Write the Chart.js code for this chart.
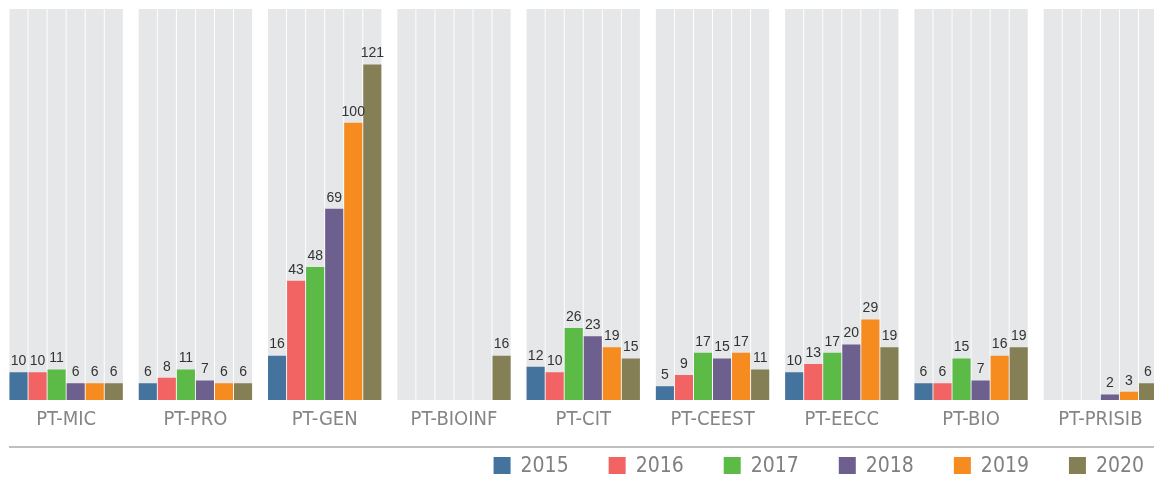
<!DOCTYPE html>
<html><head><meta charset="utf-8">
<script src="https://cdn.jsdelivr.net/npm/chart.js@4.4.0/dist/chart.umd.min.js"></script>
<style>html,body{margin:0;padding:0;background:#fff;overflow:hidden}#wrap{width:1165px;height:479px;position:relative}</style>
</head><body><div id="wrap"><canvas id="c"></canvas></div>
<script>
const categories = ['PT-MIC','PT-PRO','PT-GEN','PT-BIOINF','PT-CIT','PT-CEEST','PT-EECC','PT-BIO','PT-PRISIB'];
const years = ['2015','2016','2017','2018','2019','2020'];
const v2015 = [10,6,16,0,12,5,10,6,0];
const v2016 = [10,8,43,0,10,9,13,6,0];
const v2017 = [11,11,48,0,26,17,17,15,0];
const v2018 = [6,7,69,0,23,15,20,7,2];
const v2019 = [6,6,100,0,19,17,29,16,3];
const v2020 = [6,6,121,16,15,11,19,19,6];
const seriesValues = [v2015,v2016,v2017,v2018,v2019,v2020];
const colors = ['#44739e','#f26464','#5cbb46','#6d5f8e','#f68b1f','#857f55'];
const yMax = 141;
const labelFont = '"Liberation Sans Narrow","DejaVu Sans Condensed","Liberation Sans",sans-serif';
const VIEW_W = 1154;

const bgBars = {
  id:'bgBars',
  beforeDatasetsDraw(chart){
    const ctx = chart.ctx, y = chart.scales.y;
    const top = y.getPixelForValue(yMax), bot = y.getPixelForValue(0);
    ctx.save(); ctx.fillStyle = '#e6e7e9';
    chart.data.datasets.forEach((d,i)=>{
      chart.getDatasetMeta(i).data.forEach(el=>{
        ctx.fillRect(el.x - el.width/2, top, el.width, bot-top);
      });
    });
    ctx.restore();
  }
};
const valueLabels = {
  id:'valueLabels',
  afterDatasetsDraw(chart){
    const ctx = chart.ctx;
    ctx.save();
    ctx.font = '14px "Liberation Sans", Arial, sans-serif';
    ctx.fillStyle = '#333'; ctx.textAlign='center'; ctx.textBaseline='bottom';
    chart.data.datasets.forEach((d,i)=>{
      chart.getDatasetMeta(i).data.forEach((el,j)=>{
        const v = d.data[j];
        if (v) ctx.fillText(String(v), el.x, el.y - 4);
      });
    });
    ctx.restore();
  }
};
const footer = {
  id:'footer',
  afterDraw(chart){
    const ctx = chart.ctx, ca = chart.chartArea;
    ctx.save();
    ctx.strokeStyle = '#aaaaaa'; ctx.lineWidth = 1.5;
    const ly = ca.bottom + 47;
    ctx.beginPath(); ctx.moveTo(9, ly); ctx.lineTo(chart.width, ly); ctx.stroke();
    ctx.font = '21px ' + labelFont;
    const box = 17, gap = 10, pad = 40;
    const items = chart.data.datasets.map(d=>({t:d.label, c:d.backgroundColor, w: ctx.measureText(d.label).width}));
    let total = items.reduce((s,it)=>s+box+gap+it.w,0) + pad*(items.length-1);
    let x = VIEW_W - 10 - total;
    const cy = ly + 18.5;
    ctx.textBaseline = 'middle'; ctx.textAlign='left';
    items.forEach(it=>{
      ctx.fillStyle = it.c; ctx.fillRect(x, cy - box/2, box, box);
      ctx.fillStyle = '#808080'; ctx.fillText(it.t, x + box + gap, cy + 1);
      x += box + gap + it.w + pad;
    });
    ctx.restore();
  }
};

new Chart(document.getElementById('c'), {
  type:'bar',
  data:{
    labels: categories,
    datasets: years.map((yr,i)=>({
      label: yr, data: seriesValues[i], backgroundColor: colors[i], borderWidth:0,
      categoryPercentage:0.884, barPercentage:0.95
    }))
  },
  options:{
    responsive:true, maintainAspectRatio:false, animation:false,
    layout:{padding:{top:9,left:1.5,right:0,bottom:0}},
    plugins:{legend:{display:false}, tooltip:{enabled:false}},
    scales:{
      x:{grid:{display:false}, border:{display:false},
         ticks:{font:{family:labelFont,size:20}, color:'#858585', padding:0},
         afterFit(s){ s.height = 79; }},
      y:{display:false, min:0, max:yMax}
    }
  },
  plugins:[bgBars, valueLabels, footer]
});
</script></body></html>
